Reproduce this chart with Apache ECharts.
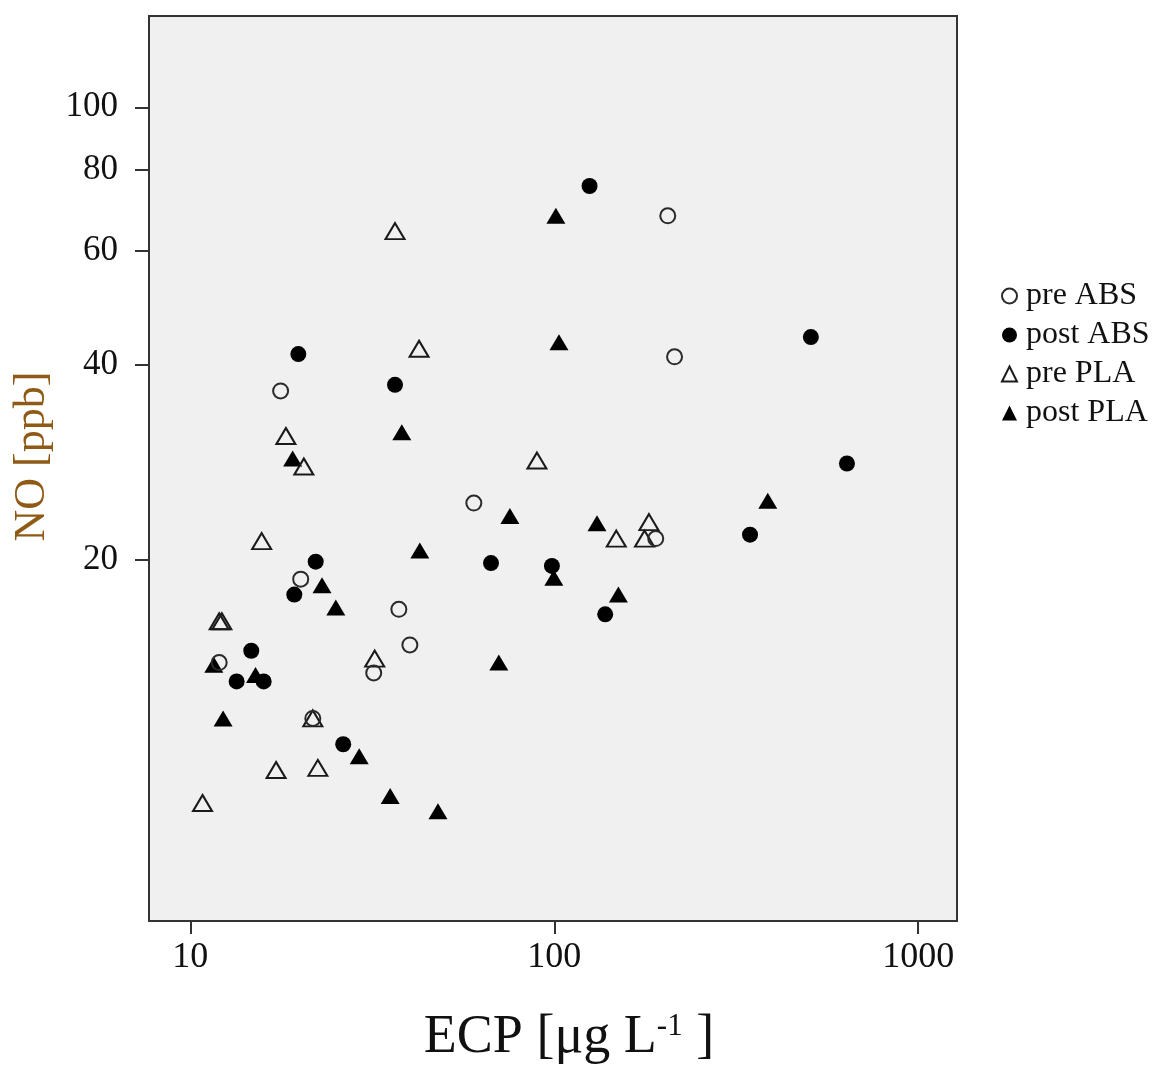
<!DOCTYPE html>
<html><head><meta charset="utf-8">
<script src="https://cdn.jsdelivr.net/npm/echarts@6/dist/echarts.min.js"></script>
<style>html,body{margin:0;padding:0;background:#fff}#c{width:1157px;height:1066px}</style>
</head><body><div id="c"></div>
<script>
const xTicks = [10, 100, 1000];
const yTicks = [20, 40, 60, 80, 100];
const seriesNames = ['pre ABS', 'post ABS', 'pre PLA', 'post PLA'];

const preABS = [[17.7,36.5],[20.1,18.7],[12.0,13.9],[31.9,13.4],[37.4,16.8],[40.1,14.8],[60.1,24.5],[21.7,11.4],[205,68.0],[214,41.2],[190,21.6]];
const postABS = [[19.8,41.6],[36.5,37.3],[125,75.6],[507,44.2],[637,28.2],[345,21.9],[138,16.5],[98.5,19.6],[67.0,19.8],[22.1,19.9],[19.3,17.7],[14.7,14.5],[13.4,13.0],[15.9,13.0],[26.3,10.4]];
const prePLA = [[36.5,64.4],[42.5,42.4],[18.3,31.1],[20.5,27.9],[89.6,28.5],[15.7,21.4],[12.0,16.1],[12.2,16.1],[32.1,14.1],[21.7,11.4],[17.2,9.49],[22.4,9.56],[10.8,8.44],[148,21.6],[177,21.6],[182,22.9]];
const postPLA = [[101,68.0],[103,43.4],[38.1,31.5],[19.1,28.7],[75.5,23.4],[42.7,20.7],[131,22.8],[386,24.7],[99.7,18.8],[150,17.7],[23.0,18.3],[25.1,16.9],[11.6,13.8],[15.1,13.3],[12.3,11.4],[29.1,9.97],[35.4,8.65],[47.9,8.20],[70.4,13.9]];

const serif = 'Liberation Serif';
const chart = echarts.init(document.getElementById('c'), null, {renderer: 'canvas'});
chart.setOption({
  animation: false,
  backgroundColor: '#ffffff',
  grid: {left: 149, top: 16, width: 808, height: 905, show: true, backgroundColor: '#f0f0f0', borderColor: '#333', borderWidth: 2, containLabel: false, outerBoundsMode: 'none'},
  legend: {
    data: seriesNames, orient: 'vertical', left: 996, top: 275, itemGap: 7, itemWidth: 15, itemHeight: 15,
    textStyle: {fontFamily: serif, fontSize: 32, color: '#111', padding: [0, 0, 0, 4]}
  },
  xAxis: {
    type: 'log', logBase: 10, min: 7.697, max: 1278,
    axisLine: {show: false},
    axisTick: {show: true, length: 13, lineStyle: {color: '#333', width: 2}, customValues: xTicks},
    axisLabel: {customValues: xTicks, fontFamily: serif, fontSize: 36, color: '#111', margin: 19, formatter: v => String(v)},
    splitLine: {show: false}, minorTick: {show: false},
    name: '{a|ECP [\u03bcg L}{s|-1}{a| ]}', nameLocation: 'middle', nameGap: 90,
    nameTextStyle: {padding: [0, 0, 0, 32], rich: {a: {fontFamily: serif, fontSize: 54, color: '#111'}, s: {fontFamily: serif, fontSize: 31, color: '#111', verticalAlign: 'top', padding: [0,0,23,0]}}}
  },
  yAxis: {
    type: 'log', logBase: 10, min: 5.55, max: 138.3,
    axisLine: {show: false},
    axisTick: {show: true, length: 14, lineStyle: {color: '#333', width: 2}, customValues: yTicks},
    axisLabel: {customValues: yTicks, fontFamily: serif, fontSize: 35, color: '#111', margin: 31, formatter: v => String(v)},
    splitLine: {show: false}, minorTick: {show: false},
    name: 'NO [ppb]', nameLocation: 'middle', nameGap: 92,
    nameTextStyle: {fontFamily: serif, fontSize: 44, color: '#8f5a16', padding: [0, 0, 0, 24]}
  },
  series: [
    {name: 'post PLA', type: 'scatter', data: postPLA, symbol: 'triangle', symbolSize: [19, 16], itemStyle: {color: '#000', opacity: 1}},
    {name: 'pre PLA', type: 'scatter', data: prePLA, symbol: 'triangle', symbolSize: [19, 16], itemStyle: {color: 'rgba(0,0,0,0)', borderColor: '#1a1a1a', borderWidth: 2, opacity: 1}},
    {name: 'post ABS', type: 'scatter', data: postABS, symbol: 'circle', symbolSize: 16, itemStyle: {color: '#000', opacity: 1}},
    {name: 'pre ABS', type: 'scatter', data: preABS, symbol: 'circle', symbolSize: 15, itemStyle: {color: 'rgba(0,0,0,0)', borderColor: '#2a2a2a', borderWidth: 2, opacity: 1}}
  ]
});
</script></body></html>
